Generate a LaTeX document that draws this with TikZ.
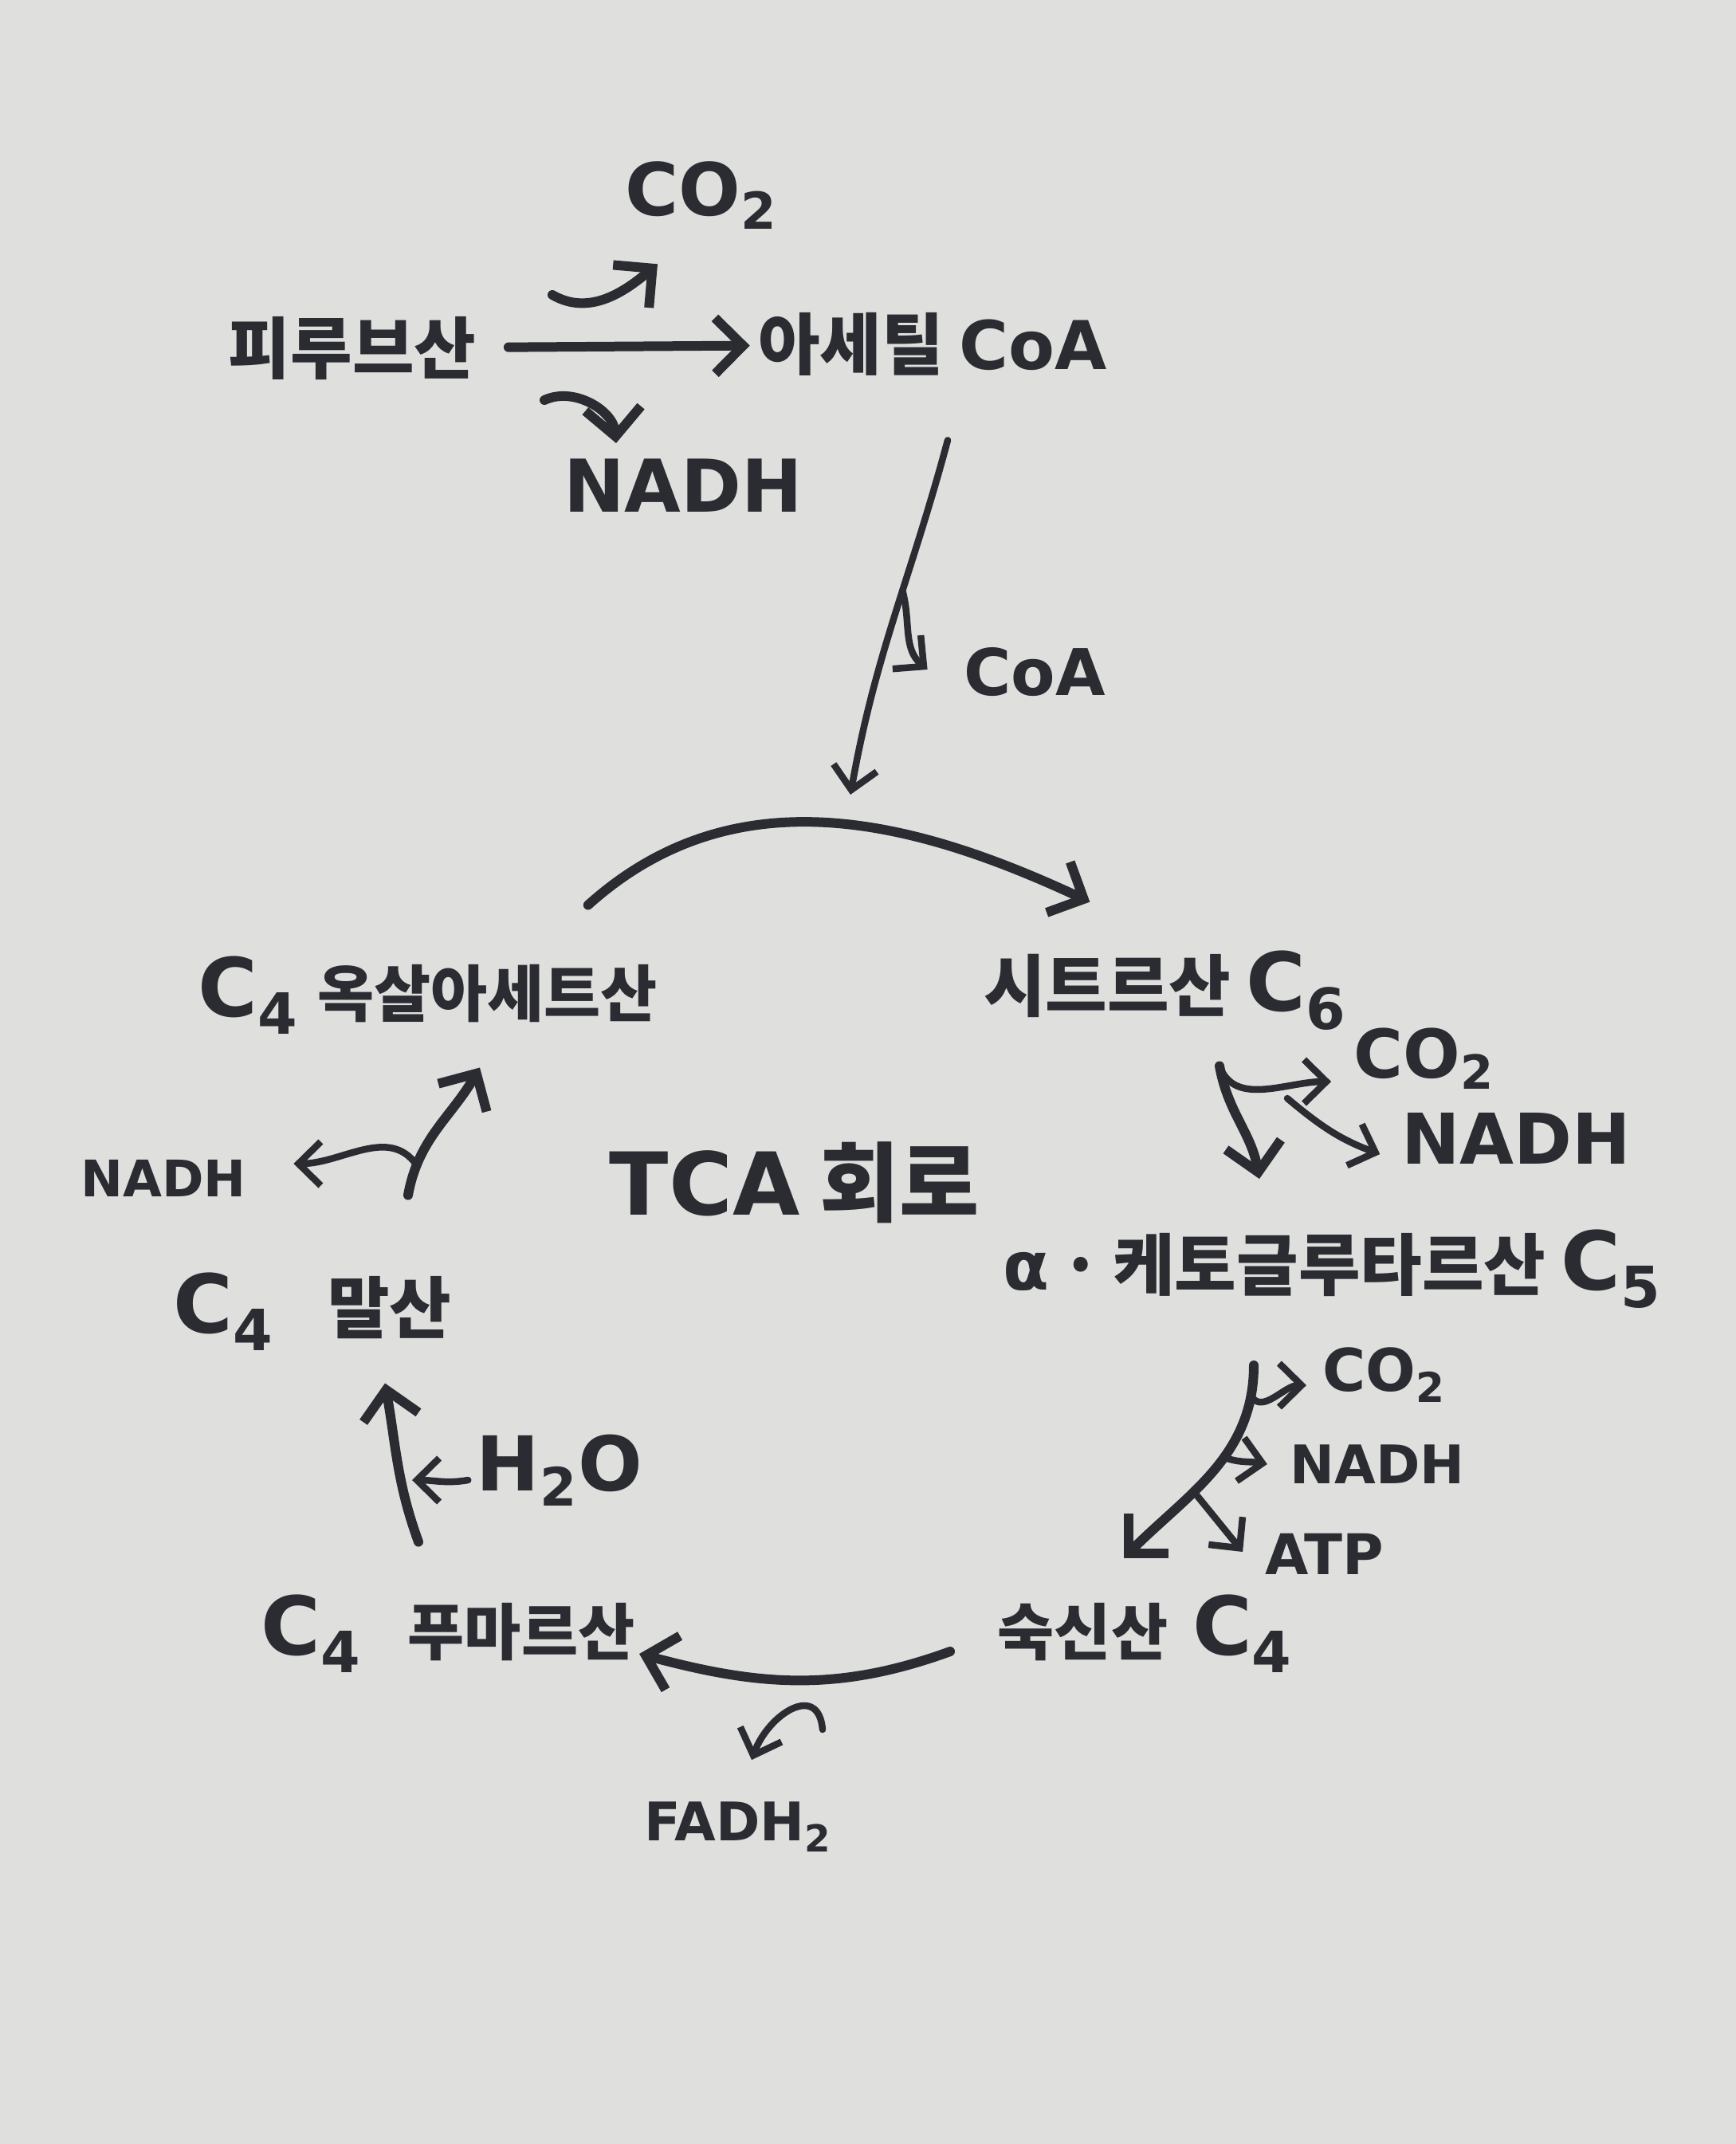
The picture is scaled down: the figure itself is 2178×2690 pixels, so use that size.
\documentclass[tikz,border=0pt]{standalone}
\usepackage{fontspec}
\setmainfont{Noto Sans CJK KR}
\newfontfamily\lat{DejaVu Sans}
\usepackage{tikz}
\usetikzlibrary{arrows.meta}
\definecolor{paper}{RGB}{223,223,221}
\definecolor{ink}{RGB}{42,44,50}
\newcommand{\carb}[1]{{\lat\fontsize{29}{29}\selectfont C\textsubscript{#1}}}

\begin{document}
\begin{tikzpicture}[x=0.1mm, y=0.1mm, ink, line cap=round, line join=round,
  lbl/.style={font=\bfseries\fontsize{24}{28}\selectfont, inner sep=1mm},
  lbls/.style={font=\bfseries\fontsize{22}{26}\selectfont, inner sep=1mm},
  tag/.style={font=\lat\bfseries\fontsize{#1}{#1}\selectfont, inner sep=1mm},
  arr/.style={-{Straight Barb[length=3.5mm,width=7mm]}, line width=1.2mm},
  thn/.style={-{Straight Barb[length=2.8mm,width=5.5mm]}, line width=0.85mm}]
  \fill[paper] (0,0) rectangle (2178,-2690);
  \useasboundingbox (0,0) rectangle (2178,-2690);

  \node[lbl] (pyr) at (442,-437) {피루브산};
  \node[lbl] (acoa) at (1170,-432) {아세틸 {\lat CoA}};
  \node[tag=26] (co2a) at (880,-245) {CO\textsubscript{2}};
  \node[tag=26] (nadha) at (857,-609) {NADH};
  \node[tag=23] (coa) at (1298,-843) {CoA};
  \node[lbls] (oxa) at (537,-1249) {\carb{4}\hspace{0.3em}옥살아세트산};
  \node[lbl] (cit) at (1462,-1243) {시트르산 \carb{6}};
  \node[tag=24] (co2b) at (1787,-1328) {CO\textsubscript{2}};
  \node[tag=25] (nadhb) at (1902,-1428) {NADH};
  \node[lbl] (akg) at (1672,-1592) {{\lat α}\,·\,케토글루타르산 \carb{5}};
  \node[tag=21] (co2c) at (1737,-1725) {CO\textsubscript{2}};
  \node[tag=19] (nadhc) at (1728,-1837) {NADH};
  \node[tag=20] (atp) at (1662,-1950) {ATP};
  \node[lbls] (suc) at (1437,-2050) {숙신산\hspace{0.4em}\carb{4}};
  \node[tag=19] (fadh) at (926,-2292) {FADH\textsubscript{2}};
  \node[lbls] (fum) at (562,-2050) {\carb{4}\hspace{0.75em}푸마르산};
  \node[tag=27] (h2o) at (702,-1845) {H\textsubscript{2}O};
  \node[lbl] (mal) at (392,-1646) {\carb{4}\hspace{0.8em}말산};
  \node[tag=18] (nadhl) at (205,-1478) {NADH};
  \node[font=\bfseries\fontsize{31}{34}\selectfont] (tca) at (997,-1484) {{\lat TCA} 회로};

  \draw[arr, shorten <=3mm] (pyr) -- (acoa);
  \coordinate (hu) at (693,-370);
  \draw[arr] (hu) to[out=-30,in=220] ([shift={(-5.5mm,-3.3mm)}]co2a.south);
  \coordinate (hd) at (683,-502);
  \draw[arr] (hd) to[out=25,in=95] ([shift={(-8.4mm,0.9mm)}]nadha.north);

  \coordinate (jn) at (1067,-997);
  \draw[thn] ([shift={(1.9mm,-7mm)}]acoa.south) to[out=-105,in=80]
    coordinate[pos=0.42] (cb) (jn);
  \draw[thn] (cb) to[out=-75,in=140] ([shift={(-3.5mm,0.3mm)}]coa.west);

  \draw[arr] ([shift={(-9.8mm,5.4mm)}]oxa.north east) to[out=42,in=155] ([shift={(14.4mm,5.1mm)}]cit.north west);

  \coordinate (cb1) at ([shift={(6.8mm,-3.4mm)}]cit.south);
  \coordinate (cb2) at (1615,-1378);
  \draw[arr] (cb1) to[out=-80,in=100] ([shift={(-9.2mm,5.3mm)}]akg.north);
  \draw[thn] (cb1) to[out=-70,in=180] ([shift={(-1.8mm,-2.9mm)}]co2b.west);
  \draw[thn] (cb2) to[out=-40,in=160] ([shift={(-1.6mm,-2mm)}]nadhb.west);

  \draw[arr] ([shift={(-9.9mm,-6.1mm)}]akg.south) to[out=-90,in=45]
    coordinate[pos=0.12] (k1) coordinate[pos=0.42] (k2) coordinate[pos=0.62] (k3)
    ([shift={(-2.7mm,3.6mm)}]suc.north);
  \draw[thn] (k1) to[out=-60,in=180] ([shift={(-1mm,-1.3mm)}]co2c.west);
  \draw[thn] (k2) to[out=-20,in=170] ([xshift=-1.8mm]nadhc.west);
  \draw[thn] (k3) -- ([shift={(-1.8mm,0.3mm)}]atp.west);

  \draw[arr] ([shift={(-4.9mm,-2.2mm)}]suc.west) to[out=200,in=-15] ([shift={(-0.5mm,-2.5mm)}]fum.east);
  \coordinate (fh) at (1032,-2170);
  \draw[thn] (fh) to[out=95,in=70,looseness=1.6] ([shift={(1.7mm,4.2mm)}]fadh.north);

  \draw[arr] ([shift={(-3.7mm,5.6mm)}]fum.north) to[out=110,in=-80] ([shift={(9.1mm,-3mm)}]mal.south);
  \coordinate (hw) at (517,-1857);
  \draw[thn] ([yshift=-1.2mm]h2o.west) to[out=190,in=0] (hw);

  \draw[arr] ([shift={(12mm,8.7mm)}]mal.north) to[out=80,in=240]
    coordinate[pos=0.2] (m1) ([shift={(6.5mm,-3.1mm)}]oxa.south);
  \draw[thn] (m1) to[out=125,in=0] ([shift={(4.9mm,1.8mm)}]nadhl.east);
\end{tikzpicture}
\end{document}
